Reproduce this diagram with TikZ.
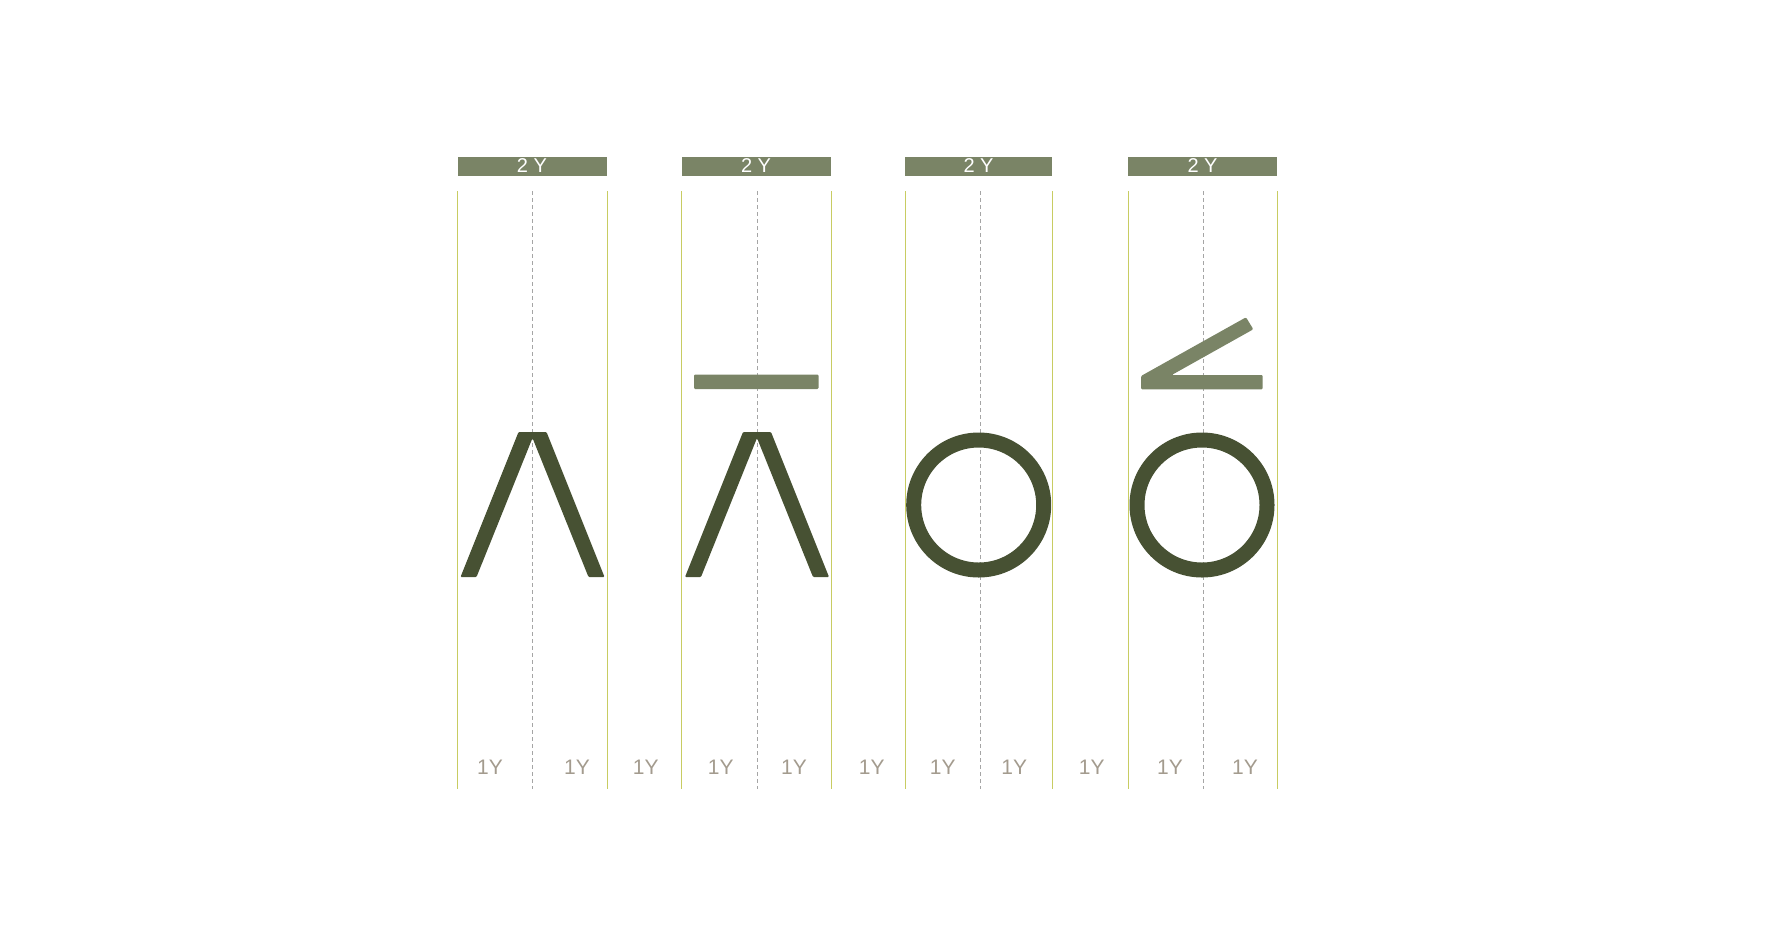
\documentclass[tikz,border=0pt]{standalone}
\usepackage{fontspec}
\setmainfont{Liberation Sans}
\usetikzlibrary{positioning}
\definecolor{barolive}{RGB}{122,132,102}
\definecolor{darkolive}{RGB}{71,81,51}
\definecolor{guidegreen}{RGB}{200,204,98}
\definecolor{midgrey}{RGB}{165,165,165}
\definecolor{unitgrey}{RGB}{163,155,142}

\begin{document}
\begin{tikzpicture}[x=1pt, y=-1pt,
    guide/.style={guidegreen, line width=1pt},
    midline/.style={midgrey, line width=1pt, dash pattern=on 4pt off 3pt},
    header/.style={fill=barolive, minimum width=149pt, minimum height=19pt, inner sep=0pt, text=white, font=\fontsize{20}{22}\selectfont},
    unit/.style={text=unitgrey, inner sep=0pt, font=\fontsize{21}{23}\selectfont},
    darkstroke/.style={fill=darkolive, rounded corners=1pt},
    lightstroke/.style={fill=barolive, rounded corners=1.2pt}]
    \useasboundingbox (0,0) rectangle (1768,927);

    % header bars
    \node[header] (h1) at (532,166) {2 Y};
    \node[header] (h2) at (756,166) {2 Y};
    \node[header, minimum width=147pt] (h3) at (978.5,166) {2 Y};
    \node[header] (h4) at (1202.5,166) {2 Y};

    % column guides
    \draw[guide] (457,191) -- (457,789);
    \draw[guide] (607,191) -- (607,789);
    \draw[guide] (681,191) -- (681,789);
    \draw[guide] (831,191) -- (831,789);
    \draw[guide] (905,191) -- (905,789);
    \draw[guide] (1052,191) -- (1052,789);
    \draw[guide] (1128,191) -- (1128,789);
    \draw[guide] (1277,191) -- (1277,789);
    \draw[midline] (532.5,191) -- (532.5,789);
    \draw[midline] (757,191) -- (757,789);
    \draw[midline] (980.5,191) -- (980.5,789);
    \draw[midline] (1203,191) -- (1203,789);

    % glyph strokes
    \fill[darkstroke] (460.5,577) -- (518.5,432) -- (546.5,432) -- (604.5,577) -- (588.5,577) -- (532.5,438) -- (476.5,577) -- cycle;
    \fill[darkstroke] (685,577) -- (743,432) -- (771,432) -- (829,577) -- (813,577) -- (757,438) -- (701,577) -- cycle;
    \fill[lightstroke] (694,374.5) rectangle (818.5,389);
    \draw[darkolive, line width=15pt] (978.7,505) circle (65);
    \draw[darkolive, line width=15pt] (1202,505) circle (65);
    \fill[lightstroke] (1141,389.3) -- (1141,376) -- (1246,317.3) -- (1253.3,329.3) -- (1171.7,375) -- (1262.7,375) -- (1262.7,389.3) -- cycle;

    % unit labels
    \node[unit] (u1) at (490,767) {1Y};
    \node[unit] (u2) at (577,767) {1Y};
    \node[unit] (u3) at (645.7,767) {1Y};
    \node[unit] (u4) at (720.7,767) {1Y};
    \node[unit] (u5) at (794,767) {1Y};
    \node[unit] (u6) at (871.7,767) {1Y};
    \node[unit] (u7) at (942.7,767) {1Y};
    \node[unit] (u8) at (1014.3,767) {1Y};
    \node[unit] (u9) at (1091.7,767) {1Y};
    \node[unit] (u10) at (1170,767) {1Y};
    \node[unit] (u11) at (1245,767) {1Y};
\end{tikzpicture}
\end{document}
